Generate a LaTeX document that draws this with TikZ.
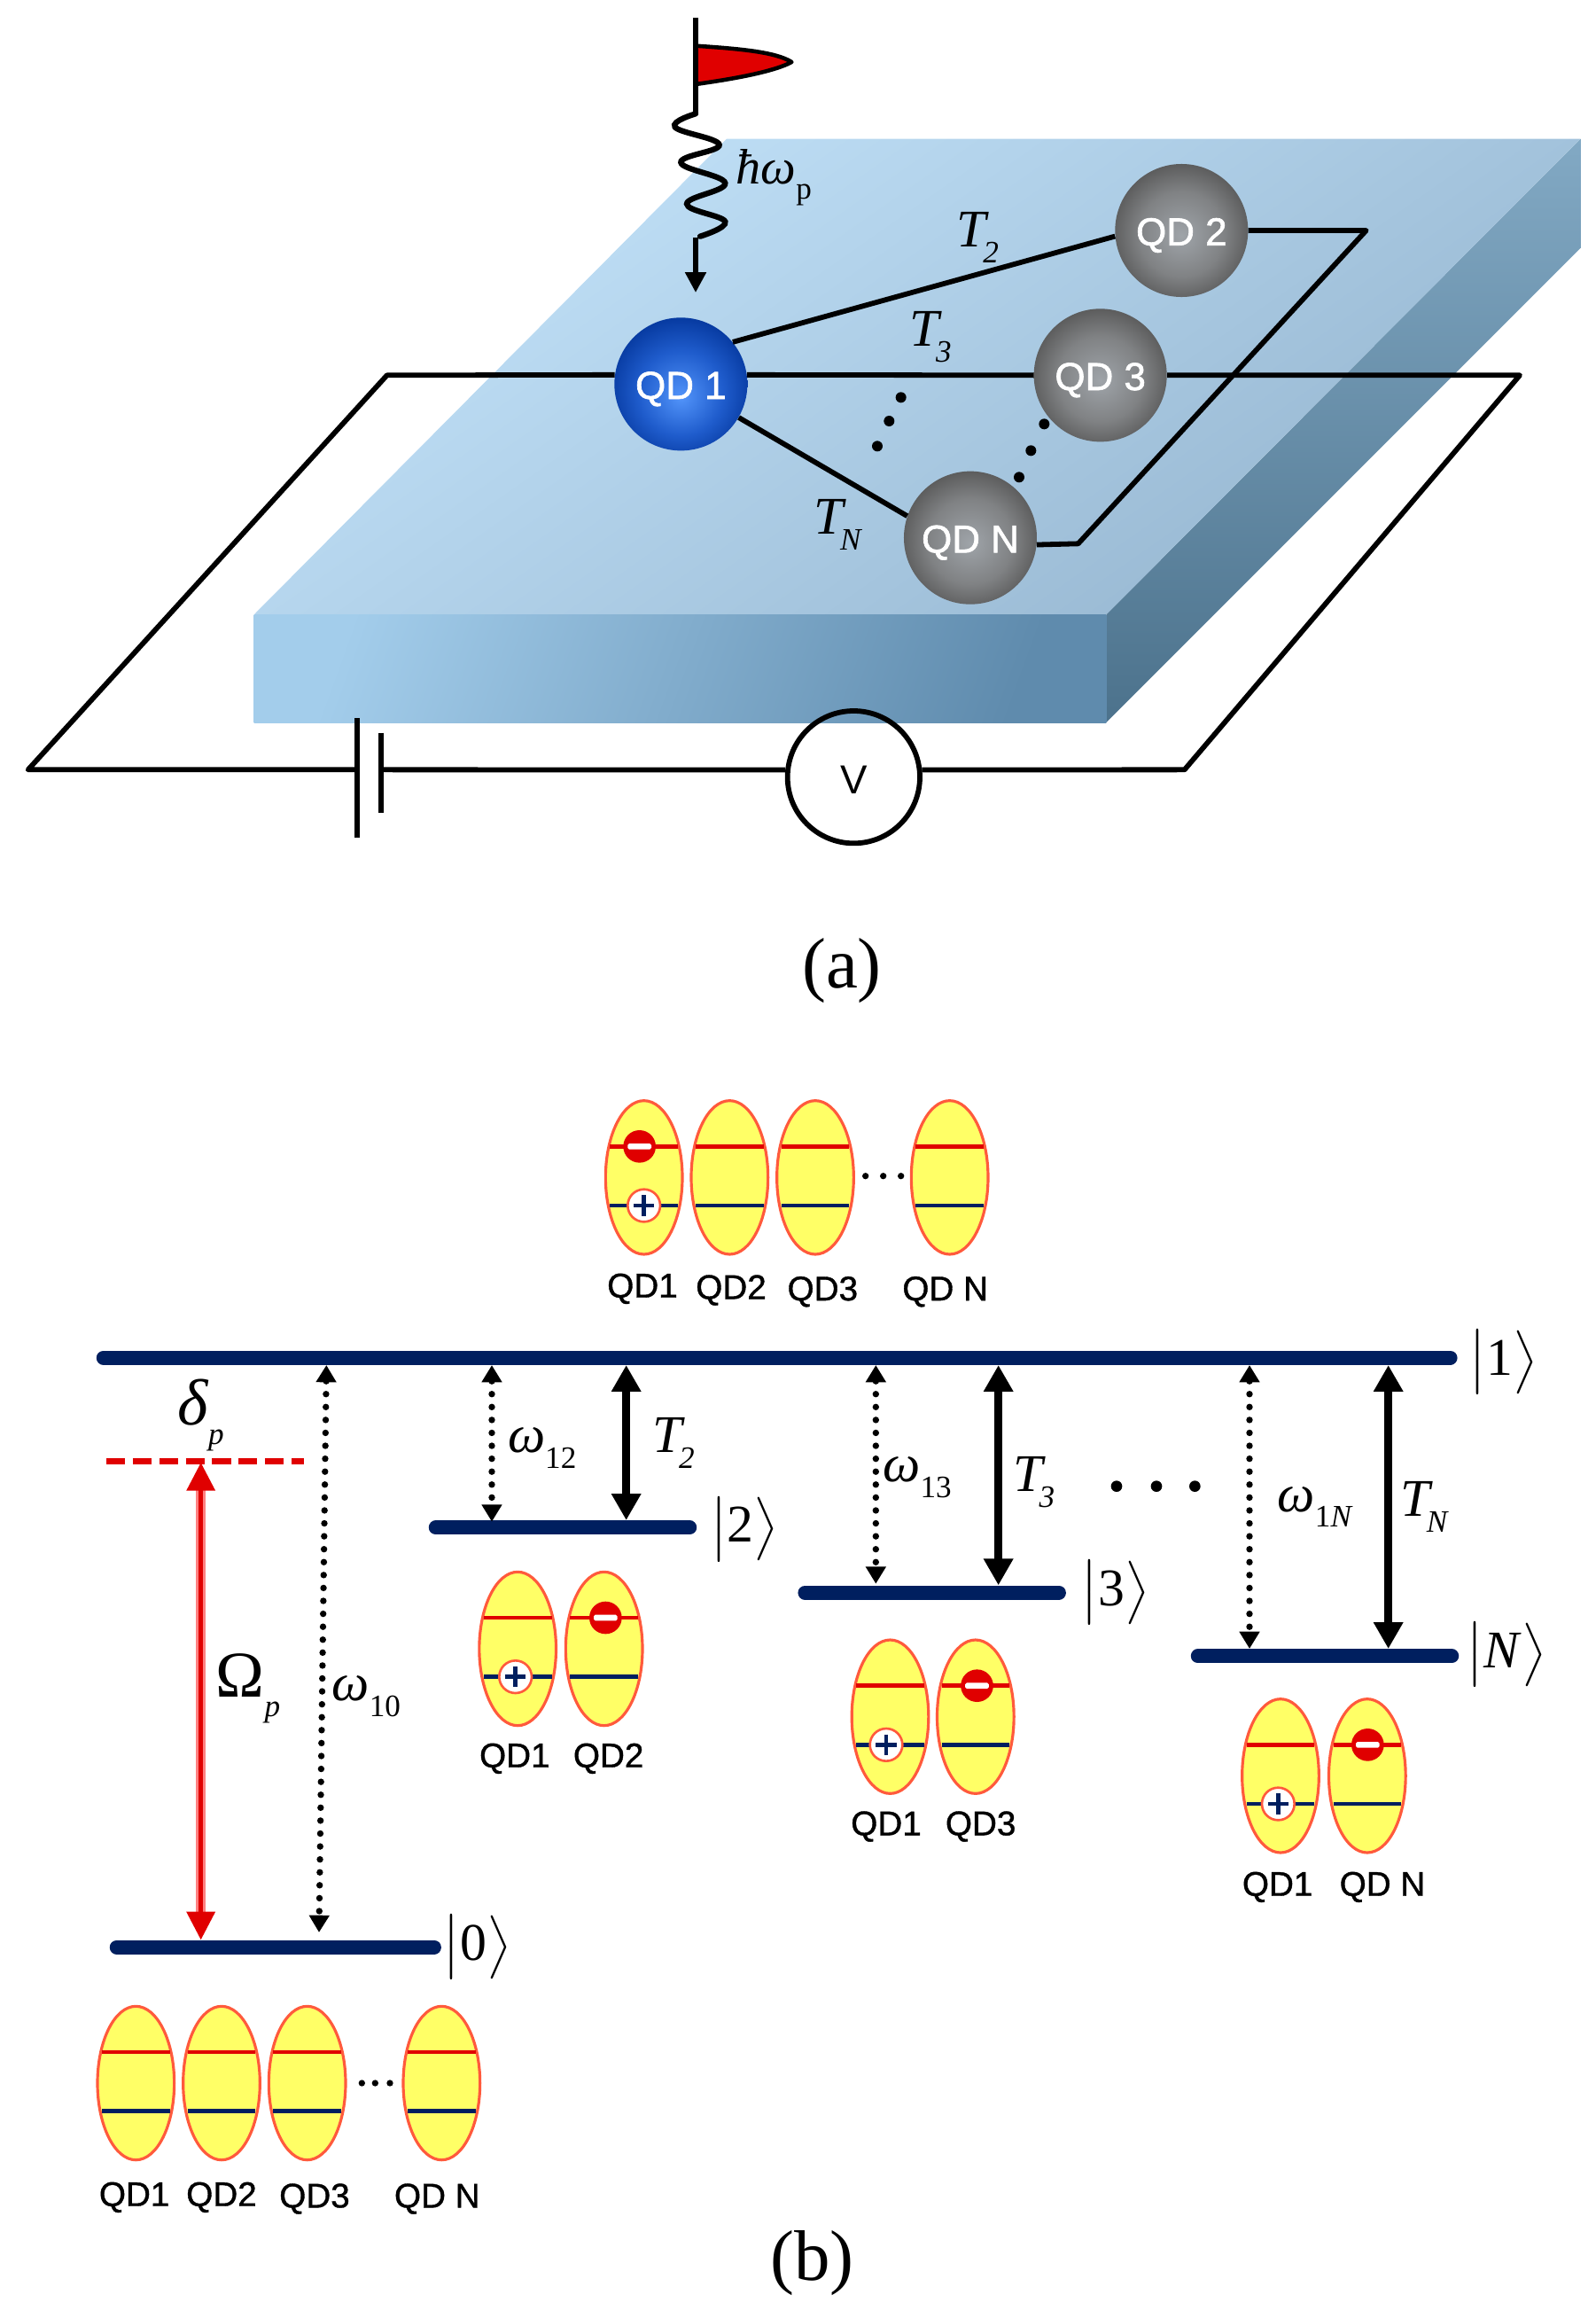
\documentclass[tikz,border=0pt]{standalone}
\usepackage{fontspec}
\setmainfont{Liberation Serif}
\setsansfont{Liberation Sans}
\newfontfamily\sphfont{Liberation Sans}[FakeBold=1.5]
\newfontfamily\qdfont{Liberation Sans}[FakeBold=1]
\usetikzlibrary{arrows.meta}
\definecolor{lvl}{HTML}{001F5F}
\definecolor{rd}{HTML}{E00000}
\definecolor{ovl}{HTML}{FF5A3C}
\definecolor{yel}{HTML}{FFFF66}
\definecolor{tA}{HTML}{C2E2F9}
\definecolor{tB}{HTML}{96B6D0}
\definecolor{fA}{HTML}{A3CDEB}
\definecolor{fB}{HTML}{5F8BAD}
\definecolor{sA}{HTML}{82A9C4}
\definecolor{sB}{HTML}{4C728C}
\definecolor{bA}{HTML}{5294FA}
\definecolor{bB}{HTML}{1F5CCC}
\definecolor{bC}{HTML}{05389E}
\definecolor{bD}{HTML}{032C88}
\definecolor{gA}{HTML}{9FA4A9}
\definecolor{gB}{HTML}{808284}
\definecolor{gC}{HTML}{555555}
\definecolor{gD}{HTML}{404040}
\pgfdeclareradialshading{qdblue}{\pgfpoint{0bp}{-5bp}}{color(0bp)=(bA);color(16bp)=(bB);color(28bp)=(bC);color(36bp)=(bD);color(50bp)=(bD)}
\pgfdeclareradialshading{qdgrey}{\pgfpoint{0bp}{-2bp}}{color(0bp)=(gA);color(16bp)=(gB);color(28bp)=(gC);color(36bp)=(gD);color(50bp)=(gD)}
\newcommand\subl[2]{#1\raisebox{-.3em}{\fontsize{20}{20}\selectfont #2}}
\newcommand\subT[2]{#1\kern-.06em\raisebox{-.3em}{\fontsize{20}{20}\selectfont #2}}
\newcommand\ketl[1]{\scalebox{3.4}{\fontsize{10}{12}\selectfont$\big|\hbox{#1}\big\rangle$}}
\tikzset{
 wire/.style={line width=3.3pt,line join=round},
 sph/.style={circle,minimum size=85.4pt,inner sep=0pt,text=white,text height=19pt,text depth=0pt,font=\sphfont\fontsize{25}{28}\selectfont},
 tl/.style={inner sep=0pt,font=\fontsize{34}{38}\selectfont\itshape},
 gl/.style={inner sep=0pt,font=\fontsize{42}{46}\selectfont\itshape},
 kl/.style={inner sep=0pt},
 ql/.style={inner sep=0pt,yshift=-2.2pt,font=\qdfont\fontsize{22}{24}\selectfont},
 figcap/.style={inner sep=0pt,font=\fontsize{46}{50}\selectfont},
 lvline/.style={line width=9pt,lvl,line cap=round},
 dotarr/.style={line width=4.2pt,line cap=round,dash pattern=on 0pt off 8.3pt,{Triangle[length=11pt,width=12.5pt]}-{Triangle[length=11pt,width=12.5pt]}},
 solarr/.style={line width=4.8pt,{Triangle[length=17pt,width=18pt]}-{Triangle[length=17pt,width=18pt]}},
 oval/.style={draw=ovl,fill=yel,line width=1.8pt},
 elev/.style={rd,line width=2.8pt},
 hlev/.style={lvl,line width=2.8pt},
}
\newcommand\qdell[2]{%
 \draw[oval] (#1,#2) ellipse [x radius=26,y radius=52];
 \draw[elev] (#1-23,#2-21)--(#1+23,#2-21);
 \draw[hlev] (#1-23,#2+19)--(#1+23,#2+19);}
\newcommand\qminus[2]{%
 \fill[rd] (#1,#2) circle [radius=11];
 \fill[white,rounded corners=1pt] (#1-8,#2-2) rectangle (#1+8,#2+2);}
\newcommand\qplus[2]{%
 \draw[draw=ovl,fill=white,line width=1.5pt] (#1,#2) circle [radius=11];
 \draw[lvl,line width=2.8pt] (#1-7,#2)--(#1+7,#2) (#1,#2-7)--(#1,#2+7);}
\begin{document}
\begin{tikzpicture}[x=0.0333333cm,y=-0.0333333cm]
\useasboundingbox (0,0) rectangle (1080,1569);
% slab
\shade[top color=sA,bottom color=sB] (749,416)--(1070,94)--(1070,168)--(749,489)--cycle;
\shade[left color=tA,right color=tB,shading angle=35] (492,94)--(1070,94)--(749,416)--(172,416)--cycle;
\shade[left color=fA,right color=fB,shading angle=70] (172,416)--(749,416)--(749,489)--(172,489)--cycle;
% spheres
\node[sph,shading=qdblue] (QD1) at (461,260) {QD 1};
\node[sph,shading=qdgrey] (QD2) at (800,156) {QD 2};
\node[sph,shading=qdgrey] (QD3) at (745,254) {QD 3};
\node[sph,shading=qdgrey] (QDN) at (657,364) {QD N};
\node[circle,draw,line width=3.3pt,minimum size=85pt,inner sep=0pt,text height=21pt,text depth=0pt,font=\sffamily\fontsize{26}{28}\selectfont] (VM) at (578,526) {V};
% wires
\coordinate (ul) at (262,254);
\coordinate (ur) at (1029,254);
\coordinate (lr) at (802,521);
\coordinate (ll) at (19,521);
\coordinate (b1) at (242,521);
\coordinate (b2) at (258,521);
\coordinate (tr) at (925,156);
\coordinate (br) at (730,368);
\draw[wire] (b1)--(ll)--(ul)--(QD1.172);
\draw[wire] (QD1.8)--(QD3.west);
\draw[wire] (QD3.east)--(ur)--(lr)--(VM.6);
\draw[wire] (VM.174)--(b2);
\draw[wire] (QD1.39)--(QD2.185);
\draw[wire] (QD1.-30)--(QDN.161);
\draw[wire] (QD2.east)--(tr)--(br)--(QDN.-6);
\coordinate (b1t) at (242,486); \coordinate (b1b) at (242,567);
\coordinate (b2t) at (258,496); \coordinate (b2b) at (258,550);
\draw[wire] (b1t)--(b1b);
\draw[wire] (b2t)--(b2b);
\foreach \p in {(610,269),(602,285),(594,302),(707,287),(698,305),(690,323)} \fill \p circle [radius=3.6];
% photon
\coordinate (pt) at (471,12);
\coordinate (pb) at (471,76);
\coordinate (ab) at (471,161);
\coordinate (at) at (471,198);
\draw[fill=rd,line width=2.6pt,line join=round] (471,31) .. controls (500,33) and (525,35) .. (536,42) .. controls (525,48) and (500,53) .. (471,57)--cycle;
\draw[line width=3.4pt] (pt)--(pb);
\draw[line width=3.6pt,line cap=round] plot[smooth,tension=0.7] coordinates {(471,77) (457,86) (487,98) (461,110) (491,124) (465,138) (491,150) (474,160)};
\draw[line width=3pt,-{Triangle[length=13pt,width=13pt]}] (ab)--(at);
\node[tl,font=\fontsize{32}{36}\selectfont] (hw) at (524,120) {\subl{\textit{ħω}}{p}};
\node[tl] (tt2) at (662,161) {\subT{T}{2}};
\node[tl] (tt3) at (630,228) {\subT{T}{3}};
\node[tl] (ttn) at (567,355) {\subT{T}{N}};
\node[figcap] (capa) at (570,657) {(a)};
\node[figcap] (capb) at (550,1532) {(b)};
% levels
\coordinate (l1a) at (70,919); \coordinate (l1b) at (982,919);
\coordinate (l2a) at (295,1034); \coordinate (l2b) at (467,1034);
\coordinate (l3a) at (545,1078); \coordinate (l3b) at (717,1078);
\coordinate (lNa) at (811,1121); \coordinate (lNb) at (983,1121);
\coordinate (l0a) at (79,1318); \coordinate (l0b) at (294,1318);
\foreach \a/\b in {l1a/l1b,l2a/l2b,l3a/l3b,lNa/lNb,l0a/l0b} \draw[lvline] (\a)--(\b);
\coordinate (da) at (72,989); \coordinate (db) at (206,989);
\draw[rd,line width=4pt,dash pattern=on 12pt off 5pt] (da)--(db);
% arrows
\coordinate (r1) at (136,990); \coordinate (r0) at (136,1313);
\draw[red!50!white,line width=6.5pt,shorten >=14pt,shorten <=14pt] (r1)--(r0);
\draw[rd,line width=2.6pt,{Triangle[length=18pt,width=18pt]}-{Triangle[length=18pt,width=18pt]}] (r1)--(r0);
\coordinate (a10t) at (221,924); \coordinate (a10b) at (216,1308);
\draw[dotarr] (a10t)--(a10b);
\coordinate (a12t) at (333,924); \coordinate (a12b) at (333,1030);
\draw[dotarr] (a12t)--(a12b);
\coordinate (a13t) at (593,924); \coordinate (a13b) at (593,1072);
\draw[dotarr] (a13t)--(a13b);
\coordinate (a1Nt) at (846,924); \coordinate (a1Nb) at (846,1116);
\draw[dotarr] (a1Nt)--(a1Nb);
\coordinate (s2t) at (424,924); \coordinate (s2b) at (424,1029);
\draw[solarr] (s2t)--(s2b);
\coordinate (s3t) at (676,924); \coordinate (s3b) at (676,1073);
\draw[solarr] (s3t)--(s3b);
\coordinate (sNt) at (940,924); \coordinate (sNb) at (940,1116);
\draw[solarr] (sNt)--(sNb);
% labels
\node[gl] (dp) at (136,958) {\subl{δ}{p}};
\node[gl] (Op) at (168,1143) {\subl{{\upshape Ω}}{p}};
\node[tl] (w10) at (248,1148) {\subl{ω}{\upshape 10}};
\node[tl] (w12) at (367,980) {\subl{ω}{\upshape 12}};
\node[tl] (w13) at (621,1000) {\subl{ω}{\upshape 13}};
\node[tl] (w1N) at (890,1020) {\subl{ω}{\upshape 1\itshape N}};
\node[tl] (T2) at (456,977) {\subT{T}{2}};
\node[tl] (T3) at (700,1003) {\subT{T}{3}};
\node[tl] (TN) at (964,1020) {\subT{T}{N}};
\node[kl] (k1) at (1018,922) {\ketl{1}};
\node[kl] (k2) at (504,1035) {\ketl{2}};
\node[kl] (k3) at (755,1078) {\ketl{3}};
\node[kl] (kN) at (1020,1120) {\ketl{\textit{N}}};
\node[kl] (k0) at (323,1318) {\ketl{0}};
\foreach \p in {(756,1006),(783,1006),(809,1006)} \fill \p circle [radius=3.8];
% top group
\qdell{436}{797}\qdell{494}{797}\qdell{552}{797}\qdell{643}{797}
\qminus{433}{776}\qplus{436}{816}
\foreach \p in {(586,796),(598,796),(610,796)} \fill \p circle [radius=2.2];
\node[ql] (a1) at (435,870) {QD1};
\node[ql] (a2) at (495,871) {QD2};
\node[ql] (a3) at (557,872) {QD3};
\node[ql] (a4) at (640,872) {QD N};
% group 2
\qdell{350.5}{1116}\qdell{409}{1116}
\qminus{410}{1095}\qplus{349}{1135}
\node[ql] (b1l) at (348.5,1188) {QD1};
\node[ql] (b2l) at (412,1188) {QD2};
% group 3
\qdell{602.7}{1162}\qdell{660.5}{1162}
\qminus{661.5}{1141}\qplus{600}{1181}
\node[ql] (c1l) at (600,1234) {QD1};
\node[ql] (c2l) at (664,1234) {QD3};
% group N
\qdell{867}{1202}\qdell{925.7}{1202}
\qminus{926}{1181}\qplus{865.4}{1221}
\node[ql] (d1l) at (865,1275) {QD1};
\node[ql] (d2l) at (936,1275) {QD N};
% group 0
\qdell{92}{1410}\qdell{150}{1410}\qdell{208}{1410}\qdell{299}{1410}
\foreach \p in {(245,1410),(254,1410),(264,1410)} \fill \p circle [radius=2.2];
\node[ql] (e1) at (91,1485) {QD1};
\node[ql] (e2) at (150,1485) {QD2};
\node[ql] (e3) at (213,1486) {QD3};
\node[ql] (e4) at (296,1486) {QD N};
\end{tikzpicture}
\end{document}
